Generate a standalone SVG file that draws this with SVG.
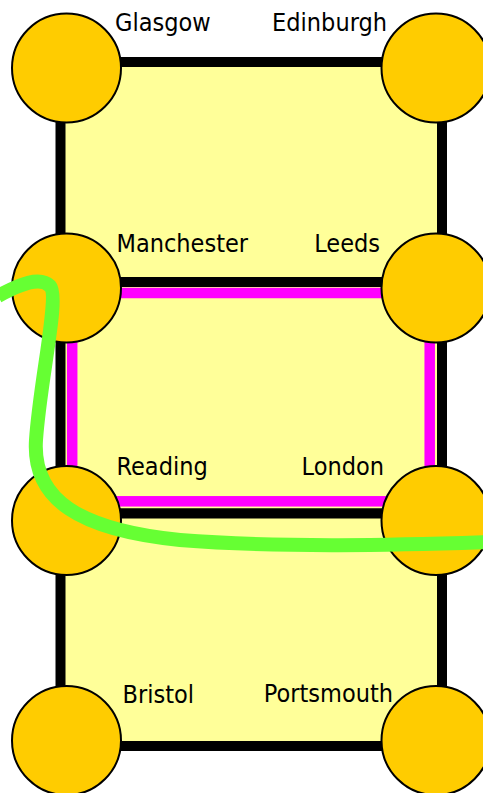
<svg xmlns="http://www.w3.org/2000/svg" width="483" height="793" viewBox="0 0 483 793">
  <style>
    .region { fill: #FFFF99; stroke: #000000; stroke-width: 10; }
    .route { fill: none; stroke: #FF00FF; stroke-width: 10.5; }
    .city { fill: #FFCC00; stroke: #000000; stroke-width: 2; }
    .label { font-family: "DejaVu Sans Condensed", "DejaVu Sans", sans-serif; font-stretch: condensed; font-size: 25px; fill: #000000; }
    .end { text-anchor: end; }
    .link { fill: none; stroke: #66FF33; stroke-width: 14; stroke-linecap: butt; }
  </style>

  <!-- regions bounded by the city nodes -->
  <g id="regions">
    <rect id="region-north" class="region" x="60.5" y="62" width="381.5" height="220"/>
    <rect id="region-middle" class="region" x="60.5" y="282" width="381.5" height="231.5"/>
    <rect id="region-south" class="region" x="60.5" y="513.5" width="381.5" height="232.5"/>
  </g>

  <!-- inner route loop -->
  <g id="routes">
    <rect id="route-loop" class="route" x="72.2" y="293" width="357.5" height="208.3"/>
  </g>

  <!-- city nodes -->
  <g id="glasgow">
    <circle class="city" cx="66.5" cy="68" r="54.5"/>
    <text class="label" x="115" y="30.5">Glasgow</text>
  </g>
  <g id="edinburgh">
    <circle class="city" cx="436" cy="68" r="54.5"/>
    <text class="label end" x="387" y="30.5">Edinburgh</text>
  </g>
  <g id="manchester">
    <circle class="city" cx="66.5" cy="288" r="54.5"/>
    <text class="label" x="116.5" y="252">Manchester</text>
  </g>
  <g id="leeds">
    <circle class="city" cx="436" cy="288" r="54.5"/>
    <text class="label end" x="380" y="252">Leeds</text>
  </g>
  <g id="reading">
    <circle class="city" cx="66.5" cy="520.5" r="54.5"/>
    <text class="label" x="116.5" y="475">Reading</text>
  </g>
  <g id="london">
    <circle class="city" cx="436" cy="520.5" r="54.5"/>
    <text class="label end" x="384" y="475">London</text>
  </g>
  <g id="bristol">
    <circle class="city" cx="66.5" cy="740.5" r="54.5"/>
    <text class="label" x="122.5" y="702.5">Bristol</text>
  </g>
  <g id="portsmouth">
    <circle class="city" cx="436" cy="740.5" r="54.5"/>
    <text class="label end" x="393" y="702">Portsmouth</text>
  </g>

  <!-- connectors -->
  <g id="connectors">
    <path id="link-green" class="link" d="M -2 296 C 20 284, 40 276, 50 286 C 60 296, 40 380, 36 440 C 32 500, 80 530, 180 540 C 280 548, 400 545, 490 542"/>
  </g>
</svg>
